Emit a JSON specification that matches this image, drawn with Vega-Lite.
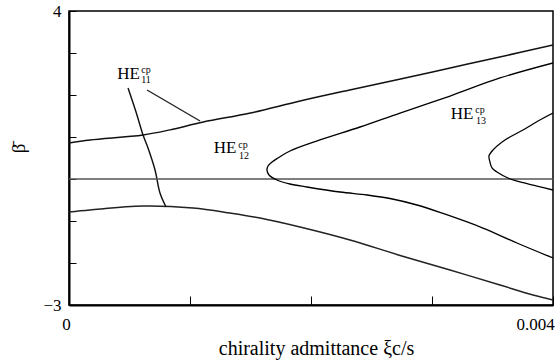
{
  "$schema": "https://vega.github.io/schema/vega-lite/v6.json",
  "width": 484,
  "height": 294,
  "autosize": {"type": "none"},
  "padding": {"left": 69, "top": 11, "right": 4, "bottom": 59},
  "background": "white",
  "config": {
    "view": {"stroke": "#000", "strokeWidth": 1.5},
    "axis": {
      "grid": false,
      "domainColor": "#000",
      "domainWidth": 2,
      "tickColor": "#000",
      "tickWidth": 1,
      "labelFont": "Liberation Serif",
      "titleFont": "Liberation Serif",
      "labelColor": "#000",
      "titleColor": "#000",
      "titleFontWeight": "normal"
    }
  },
  "datasets": {
    "curves": [
      {"s": "U", "o": 1, "x": 0, "y": 0.857},
      {"s": "U", "o": 2, "x": 0.000174, "y": 0.929},
      {"s": "U", "o": 3, "x": 0.000612, "y": 1.048},
      {"s": "U", "o": 4, "x": 0.000835, "y": 1.17},
      {"s": "U", "o": 5, "x": 0.00111, "y": 1.357},
      {"s": "U", "o": 6, "x": 0.0015, "y": 1.571},
      {"s": "U", "o": 7, "x": 0.00191, "y": 1.857},
      {"s": "U", "o": 8, "x": 0.00232, "y": 2.119},
      {"s": "U", "o": 9, "x": 0.00274, "y": 2.381},
      {"s": "U", "o": 10, "x": 0.00315, "y": 2.643},
      {"s": "U", "o": 11, "x": 0.00356, "y": 2.905},
      {"s": "U", "o": 12, "x": 0.004, "y": 3.19},
      {"s": "L", "o": 1, "x": 0, "y": -0.786},
      {"s": "L", "o": 2, "x": 0.000174, "y": -0.738},
      {"s": "L", "o": 3, "x": 0.000612, "y": -0.643},
      {"s": "L", "o": 4, "x": 0.001025, "y": -0.69},
      {"s": "L", "o": 5, "x": 0.001331, "y": -0.81},
      {"s": "L", "o": 6, "x": 0.001579, "y": -0.929},
      {"s": "L", "o": 7, "x": 0.001909, "y": -1.143},
      {"s": "L", "o": 8, "x": 0.002322, "y": -1.452},
      {"s": "L", "o": 9, "x": 0.002736, "y": -1.82},
      {"s": "L", "o": 10, "x": 0.003149, "y": -2.167},
      {"s": "L", "o": 11, "x": 0.003562, "y": -2.524},
      {"s": "L", "o": 12, "x": 0.003835, "y": -2.762},
      {"s": "L", "o": 13, "x": 0.004, "y": -2.881},
      {"s": "S", "o": 1, "x": 0.000488, "y": 2.167},
      {"s": "S", "o": 2, "x": 0.000554, "y": 1.595},
      {"s": "S", "o": 3, "x": 0.000612, "y": 1.048},
      {"s": "S", "o": 4, "x": 0.000653, "y": 0.738},
      {"s": "S", "o": 5, "x": 0.000711, "y": 0.214},
      {"s": "S", "o": 6, "x": 0.000752, "y": -0.333},
      {"s": "S", "o": 7, "x": 0.000802, "y": -0.667},
      {"s": "K", "o": 1, "x": 0.000645, "y": 2.119},
      {"s": "K", "o": 2, "x": 0.001083, "y": 1.381},
      {"s": "Z", "o": 1, "x": 0, "y": 0},
      {"s": "Z", "o": 2, "x": 0.004, "y": 0},
      {"s": "H12", "o": 1, "x": 0.004, "y": 2.762},
      {"s": "H12", "o": 2, "x": 0.003562, "y": 2.405},
      {"s": "H12", "o": 3, "x": 0.003149, "y": 1.976},
      {"s": "H12", "o": 4, "x": 0.002736, "y": 1.571},
      {"s": "H12", "o": 5, "x": 0.002405, "y": 1.238},
      {"s": "H12", "o": 6, "x": 0.002074, "y": 0.929},
      {"s": "H12", "o": 7, "x": 0.001826, "y": 0.667},
      {"s": "H12", "o": 8, "x": 0.001727, "y": 0.5},
      {"s": "H12", "o": 9, "x": 0.001678, "y": 0.405},
      {"s": "H12", "o": 10, "x": 0.001645, "y": 0.31},
      {"s": "H12", "o": 11, "x": 0.001636, "y": 0.214},
      {"s": "H12", "o": 12, "x": 0.001653, "y": 0.095},
      {"s": "H12", "o": 13, "x": 0.001719, "y": -0.024},
      {"s": "H12", "o": 14, "x": 0.001826, "y": -0.119},
      {"s": "H12", "o": 15, "x": 0.001967, "y": -0.19},
      {"s": "H12", "o": 16, "x": 0.00224, "y": -0.31},
      {"s": "H12", "o": 17, "x": 0.002463, "y": -0.381},
      {"s": "H12", "o": 18, "x": 0.002653, "y": -0.464},
      {"s": "H12", "o": 19, "x": 0.002876, "y": -0.619},
      {"s": "H12", "o": 20, "x": 0.003091, "y": -0.821},
      {"s": "H12", "o": 21, "x": 0.003421, "y": -1.167},
      {"s": "H12", "o": 22, "x": 0.003702, "y": -1.524},
      {"s": "H12", "o": 23, "x": 0.004, "y": -1.881},
      {"s": "H13", "o": 1, "x": 0.004, "y": 1.571},
      {"s": "H13", "o": 2, "x": 0.003876, "y": 1.381},
      {"s": "H13", "o": 3, "x": 0.003752, "y": 1.167},
      {"s": "H13", "o": 4, "x": 0.003603, "y": 0.929},
      {"s": "H13", "o": 5, "x": 0.003504, "y": 0.69},
      {"s": "H13", "o": 6, "x": 0.003471, "y": 0.548},
      {"s": "H13", "o": 7, "x": 0.003479, "y": 0.405},
      {"s": "H13", "o": 8, "x": 0.003496, "y": 0.262},
      {"s": "H13", "o": 9, "x": 0.003537, "y": 0.167},
      {"s": "H13", "o": 10, "x": 0.003628, "y": 0.024},
      {"s": "H13", "o": 11, "x": 0.003727, "y": -0.071},
      {"s": "H13", "o": 12, "x": 0.003868, "y": -0.167},
      {"s": "H13", "o": 13, "x": 0.004, "y": -0.262}
    ],
    "labels": [
      {"k": "base", "t": "HE", "x": 0.000492, "y": 2.5},
      {"k": "sup", "t": "cp", "x": 0.000636, "y": 2.6},
      {"k": "sub", "t": "11", "x": 0.000636, "y": 2.36},
      {"k": "base", "t": "HE", "x": 0.001289, "y": 0.738},
      {"k": "sup", "t": "cp", "x": 0.001438, "y": 0.81},
      {"k": "sub", "t": "12", "x": 0.001446, "y": 0.55},
      {"k": "base", "t": "HE", "x": 0.003248, "y": 1.548},
      {"k": "sup", "t": "cp", "x": 0.003397, "y": 1.643},
      {"k": "sub", "t": "13", "x": 0.003405, "y": 1.381}
    ]
  },
  "layer": [
    {
      "data": {"name": "curves"},
      "mark": {"type": "line", "clip": true, "interpolate": "catmull-rom"},
      "encoding": {
        "x": {
          "field": "x",
          "type": "quantitative",
          "scale": {"domain": [0, 0.004], "nice": false, "zero": false},
          "axis": {
            "values": [0, 0.001, 0.002, 0.003, 0.004],
            "tickSize": -9,
            "labelExpr": "datum.value == 0 ? '0' : (datum.value >= 0.0039 ? '0.004' : '')",
            "labelFontSize": 17,
            "labelPadding": 20,
            "labelFlush": false,
            "labelAlign": "center",
            "labelOffset": {"condition": {"test": "datum.value == 0", "value": -3}, "value": -18},
            "title": "chirality admittance ξc/s",
            "titleFontSize": 20,
            "titleX": 247,
            "titleY": 43,
            "titleAlign": "center",
            "titleBaseline": "middle"
          }
        },
        "y": {
          "field": "y",
          "type": "quantitative",
          "scale": {"domain": [-3, 4], "nice": false, "zero": false},
          "axis": {
            "values": [-3, -2, -1, 0, 1, 2, 3, 4],
            "tickSize": -7,
            "labelExpr": "datum.value == 4 ? '4' : (datum.value == -3 ? '−3' : '')",
            "labelFontSize": 17,
            "labelPadding": 15,
            "title": "β̄",
            "titleFontSize": 19,
            "titleX": -51,
            "titleY": 137,
            "titleAlign": "center",
            "titleBaseline": "middle"
          }
        },
        "detail": {"field": "s", "type": "nominal"},
        "order": {"field": "o", "type": "quantitative"},
        "color": {
          "field": "s",
          "type": "nominal",
          "scale": {"domain": ["U", "L", "S", "K", "Z", "H12", "H13"], "range": ["#111", "#222", "#111", "#222", "#555", "#000", "#000"]},
          "legend": null
        },
        "strokeWidth": {
          "field": "s",
          "type": "nominal",
          "scale": {"domain": ["U", "L", "S", "K", "Z", "H12", "H13"], "range": [1.5, 1.3, 1.5, 1.2, 1.2, 2, 2]},
          "legend": null
        }
      }
    },
    {
      "data": {"name": "labels"},
      "transform": [{"filter": "datum.k == 'base'"}],
      "mark": {"type": "text", "font": "Liberation Serif", "fontSize": 17, "color": "#000", "align": "center", "baseline": "middle"},
      "encoding": {
        "x": {"field": "x", "type": "quantitative"},
        "y": {"field": "y", "type": "quantitative"},
        "text": {"field": "t"}
      }
    },
    {
      "data": {"name": "labels"},
      "transform": [{"filter": "datum.k != 'base'"}],
      "mark": {"type": "text", "font": "Liberation Serif", "fontSize": 10, "color": "#000", "align": "center", "baseline": "middle"},
      "encoding": {
        "x": {"field": "x", "type": "quantitative"},
        "y": {"field": "y", "type": "quantitative"},
        "text": {"field": "t"}
      }
    }
  ]
}
